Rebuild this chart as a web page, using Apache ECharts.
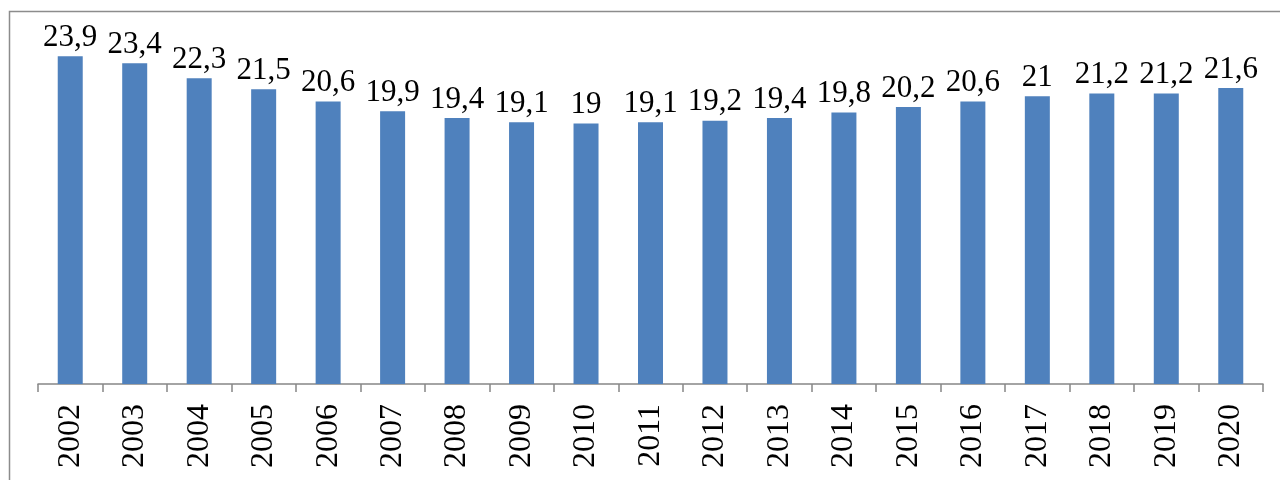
<!DOCTYPE html>
<html>
<head>
<meta charset="utf-8">
<script src="https://cdn.jsdelivr.net/npm/echarts@6/dist/echarts.min.js"></script>
<style>
  html, body { margin: 0; padding: 0; background: #fff; }
  #main { width: 1280px; height: 480px; }
</style>
</head>
<body>
<div id="main"></div>
<script>
var years = ['2002', '2003', '2004', '2005', '2006', '2007', '2008', '2009', '2010', '2011',
  '2012', '2013', '2014', '2015', '2016', '2017', '2018', '2019', '2020'];
var values = [23.9, 23.4, 22.3, 21.5, 20.6, 19.9, 19.4, 19.1, 19, 19.1,
  19.2, 19.4, 19.8, 20.2, 20.6, 21, 21.2, 21.2, 21.6];

var chart = echarts.init(document.getElementById('main'));
var option = {
  backgroundColor: '#fff',
  animation: false,
  textStyle: { fontFamily: 'Liberation Serif' },
  graphic: [{
    type: 'rect',
    shape: { x: 9.5, y: 11.5, width: 1400, height: 600 },
    style: { fill: 'none', stroke: '#8c8c8c', lineWidth: 1.5 },
    silent: true
  }],
  grid: { left: 38, right: 17, top: 55, bottom: 96 },
  xAxis: {
    type: 'category',
    data: years,
    boundaryGap: true,
    axisLine: { show: true, lineStyle: { color: '#868686', width: 1.5 } },
    axisTick: { show: true, alignWithLabel: false, interval: 0, length: 8, lineStyle: { color: '#868686', width: 1.5 } },
    axisLabel: {
      rotate: 90,
      margin: 20,
      interval: 0,
      color: '#000',
      fontSize: 32,
      fontFamily: 'Liberation Serif'
    }
  },
  yAxis: {
    type: 'value',
    min: 0,
    max: 24,
    show: false,
    splitLine: { show: false }
  },
  series: [{
    type: 'bar',
    data: values,
    barWidth: 25,
    itemStyle: { color: '#4F81BD' },
    label: {
      show: true,
      position: 'top',
      distance: 3,
      color: '#000',
      fontSize: 31,
      fontFamily: 'Liberation Serif',
      formatter: function (p) { return String(p.value).replace('.', ','); }
    }
  }]
};
chart.setOption(option);
</script>
</body>
</html>
